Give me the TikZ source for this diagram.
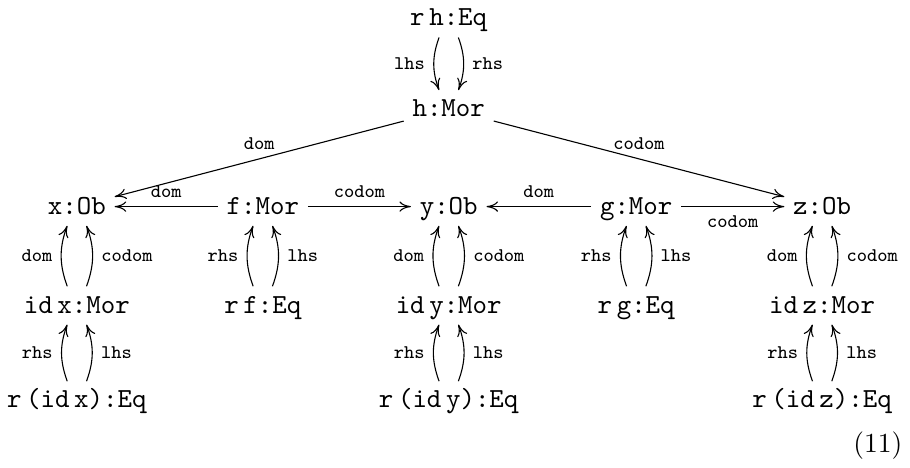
\documentclass[tikz,border=0pt]{standalone}
\usepackage{amsmath}
\usepackage{tikz}
\usetikzlibrary{arrows.meta}

\begin{document}
\begin{tikzpicture}[
        object/.style={font=\ttfamily, anchor=base, inner sep=3pt,
            text height=6.5pt, text depth=1pt},
        arrow/.style={->, >={Computer Modern Rightarrow[length=4.2pt, width=3.8pt]}, thin},
        arrow name/.style={font=\ttfamily\scriptsize, inner sep=3pt},
        lshift/.style={xshift=-3.5pt}, rshift/.style={xshift=3.5pt},
    ]
    \useasboundingbox (0,0) rectangle (11.6,-5.953);

    % equation and morphism on top
    \node[object] (rh) at (5.72,-0.33) {r\,h:Eq};
    \node[object] (h) at (5.72,-1.49) {h:Mor};

    % middle row
    \node[object] (x) at (0.98,-2.73) {x:Ob};
    \node[object] (f) at (3.35,-2.73) {f:Mor};
    \node[object] (y) at (5.72,-2.73) {y:Ob};
    \node[object] (g) at (8.11,-2.73) {g:Mor};
    \node[object] (z) at (10.48,-2.73) {z:Ob};

    % identities and equations
    \node[object] (idx) at (0.98,-3.99) {id\,x:Mor};
    \node[object] (rf) at (3.35,-3.99) {r\,f:Eq};
    \node[object] (idy) at (5.72,-3.99) {id\,y:Mor};
    \node[object] (rg) at (8.11,-3.99) {r\,g:Eq};
    \node[object] (idz) at (10.48,-3.99) {id\,z:Mor};

    % bottom row
    \node[object] (ridx) at (0.98,-5.20) {r\,(id\,x):Eq};
    \node[object] (ridy) at (5.72,-5.20) {r\,(id\,y):Eq};
    \node[object] (ridz) at (10.48,-5.20) {r\,(id\,z):Eq};

    \node[anchor=base east, inner sep=0pt] (eqno) at (11.51,-5.77) {(11)};

    %top pair
    \draw[arrow] ([lshift]rh.south) to[bend right=20]
                 node[arrow name, left] {lhs} ([lshift]h.north);
    \draw[arrow] ([rshift]rh.south) to[bend left=20]
                 node[arrow name, right] {rhs} ([rshift]h.north);

    %h
    \draw[arrow] (h) -- node[arrow name, above] {dom} (x);
    \draw[arrow] (h) -- node[arrow name, above] {codom} (z);

    %f and g
    \draw[arrow] (f) -- node[arrow name, above] {dom} (x);
    \draw[arrow] (f) -- node[arrow name, above] {codom} (y);
    \draw[arrow] (g) -- node[arrow name, above] {dom} (y);
    \draw[arrow] (g) -- node[arrow name, below] {codom} (z);

    %x column
    \draw[arrow] ([lshift]idx.north) to[bend left=20]
                 node[arrow name, left] {dom} ([lshift]x.south);
    \draw[arrow] ([rshift]idx.north) to[bend right=20]
                 node[arrow name, right] {codom} ([rshift]x.south);
    \draw[arrow] ([lshift]ridx.north) to[bend left=20]
                 node[arrow name, left] {rhs} ([lshift]idx.south);
    \draw[arrow] ([rshift]ridx.north) to[bend right=20]
                 node[arrow name, right] {lhs} ([rshift]idx.south);

    %f column
    \draw[arrow] ([lshift]rf.north) to[bend left=20]
                 node[arrow name, left] {rhs} ([lshift]f.south);
    \draw[arrow] ([rshift]rf.north) to[bend right=20]
                 node[arrow name, right] {lhs} ([rshift]f.south);

    %y column
    \draw[arrow] ([lshift]idy.north) to[bend left=20]
                 node[arrow name, left] {dom} ([lshift]y.south);
    \draw[arrow] ([rshift]idy.north) to[bend right=20]
                 node[arrow name, right] {codom} ([rshift]y.south);
    \draw[arrow] ([lshift]ridy.north) to[bend left=20]
                 node[arrow name, left] {rhs} ([lshift]idy.south);
    \draw[arrow] ([rshift]ridy.north) to[bend right=20]
                 node[arrow name, right] {lhs} ([rshift]idy.south);

    %g column
    \draw[arrow] ([lshift]rg.north) to[bend left=20]
                 node[arrow name, left] {rhs} ([lshift]g.south);
    \draw[arrow] ([rshift]rg.north) to[bend right=20]
                 node[arrow name, right] {lhs} ([rshift]g.south);

    %z column
    \draw[arrow] ([lshift]idz.north) to[bend left=20]
                 node[arrow name, left] {dom} ([lshift]z.south);
    \draw[arrow] ([rshift]idz.north) to[bend right=20]
                 node[arrow name, right] {codom} ([rshift]z.south);
    \draw[arrow] ([lshift]ridz.north) to[bend left=20]
                 node[arrow name, left] {rhs} ([lshift]idz.south);
    \draw[arrow] ([rshift]ridz.north) to[bend right=20]
                 node[arrow name, right] {lhs} ([rshift]idz.south);
\end{tikzpicture}
\end{document}
